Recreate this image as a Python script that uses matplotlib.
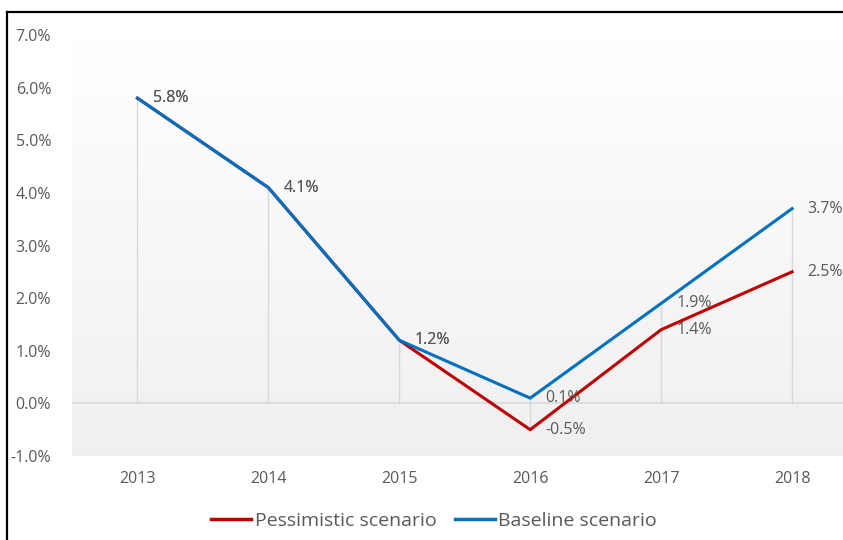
import matplotlib
matplotlib.use("Agg")
import matplotlib.pyplot as plt
import numpy as np
from matplotlib.lines import Line2D

years = ["2013", "2014", "2015", "2016", "2017", "2018"]
pessimistic = [5.8, 4.1, 1.2, -0.5, 1.4, 2.5]
baseline = [5.8, 4.1, 1.2, 0.1, 1.9, 3.7]
yticks = [-1, 0, 1, 2, 3, 4, 5, 6, 7]

RED = "#C00000"
BLUE = "#0070C0"
TXT = "#595959"

plt.rcParams['font.family'] = ['Open Sans', 'DejaVu Sans']

fig = plt.figure(figsize=(8.43, 5.40), dpi=100)
W, H = 843, 540
ax = fig.add_axes([72 / W, 1 - 456 / H, (857.5 - 72) / W, (456 - 35) / H])

x = np.arange(len(years))
n = len(years)

# gradient background: white at top, light gray at bottom
grad = np.linspace(0, 1, 256)
top = np.array([1.0, 1.0, 1.0])
bot = np.array([0.94, 0.94, 0.94])
img = (top + (bot - top) * grad[:, None]).reshape(256, 1, 3)
ax.imshow(img, extent=[-0.5, n - 0.5, -1, 7], aspect='auto', zorder=0, origin='upper')
ax.set_xlim(-0.5, n - 0.5)
ax.set_ylim(-1, 7)

# zero line
ax.axhline(0, color="#d9d9d9", lw=1.2, zorder=1)
# drop lines
for xi, p, b in zip(x, pessimistic, baseline):
    hi = max(p, b, 0)
    lo = min(p, b, 0)
    ax.plot([xi, xi], [lo, hi], color="#d9d9d9", lw=1.0, zorder=1)

ax.plot(x, pessimistic, color=RED, lw=2.2, zorder=3, label="Pessimistic scenario")
ax.plot(x, baseline, color=BLUE, lw=2.2, zorder=4, label="Baseline scenario")

for series in (pessimistic, baseline):
    for xi, v in zip(x, series):
        ax.annotate(f"{v:.1f}%", (xi, v), xytext=(11, 0), textcoords="offset points",
                    ha="left", va="center", fontsize=11.5, color=TXT, zorder=5)

ax.set_xticks(x)
ax.set_xticklabels(years)
ax.set_yticks(yticks)
ax.set_yticklabels([f"{v:.1f}%" for v in yticks])
ax.tick_params(axis="both", length=0, colors=TXT, labelsize=11.5)
ax.tick_params(axis="y", pad=15)
ax.tick_params(axis="x", pad=11)
for s in ax.spines.values():
    s.set_visible(False)

handles = [Line2D([0], [0], color=RED, lw=2.5), Line2D([0], [0], color=BLUE, lw=2.5)]
fig.legend(handles, ["Pessimistic scenario", "Baseline scenario"], loc="center",
           bbox_to_anchor=(434 / W, 1 - 521 / H), ncol=2, frameon=False,
           fontsize=14, handlelength=2.05, handletextpad=0.2, columnspacing=0.95,
           labelcolor=TXT)

# outer frame (left and top edges visible)
fig.add_artist(Line2D([7 / W, 7 / W], [0, 1 - 12 / H], color="black", lw=1.6, transform=fig.transFigure))
fig.add_artist(Line2D([7 / W, 1], [1 - 12 / H, 1 - 12 / H], color="black", lw=1.6, transform=fig.transFigure))

fig.savefig("out.png", dpi=100)
